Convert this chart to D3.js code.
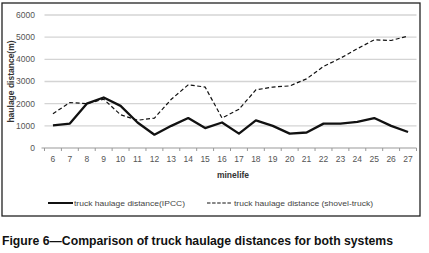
<!DOCTYPE html>
<html>
<head>
<meta charset="utf-8">
<script src="https://cdn.jsdelivr.net/npm/d3@7"></script>
<style>
  body { margin: 0; background: #fff; }
  text { font-family: "Liberation Sans", Arial, sans-serif; }
</style>
</head>
<body>
<script>
// ////////// Daten ////////////
var mineLife = [6, 7, 8, 9, 10, 11, 12, 13, 14, 15, 16, 17, 18, 19, 20, 21, 22, 23, 24, 25, 26, 27];
var ipcc = [1020, 1100, 2000, 2280, 1900, 1150, 600, 1000, 1350, 900, 1150, 650, 1250, 1000, 650, 700, 1100, 1100, 1180, 1350, 1000, 720];
var shovelTruck = [1550, 2050, 2000, 2200, 1500, 1250, 1350, 2200, 2850, 2750, 1350, 1750, 2620, 2750, 2800, 3120, 3680, 4050, 4480, 4880, 4850, 5050];
var yTicks = [0, 1000, 2000, 3000, 4000, 5000, 6000];
var legendLabels = ["truck haulage distance(IPCC)", "truck haulage distance (shovel-truck)"];
var caption = "Figure 6\u2014Comparison of truck haulage distances for both systems";

// ////////// svg ////////////
var W = 429, H = 253;
var svg = d3.select("body").append("svg")
  .attr("width", W)
  .attr("height", H);

// Rahmen
svg.append("rect")
  .attr("x", 2).attr("y", 3)
  .attr("width", 418).attr("height", 213)
  .attr("fill", "none")
  .attr("stroke", "#222")
  .attr("stroke-width", 1.3);

var plot = {left: 44.5, right: 416.5, top: 15, bottom: 148};

var x = d3.scaleBand()
  .domain(mineLife)
  .range([plot.left, plot.right]);
var y = d3.scaleLinear()
  .domain([0, 6000])
  .range([plot.bottom, plot.top]);

// Gitterlinien
svg.append("g").selectAll("line")
  .data(yTicks.filter(function(d){ return d > 0; }))
  .enter().append("line")
  .attr("x1", plot.left).attr("x2", plot.right)
  .attr("y1", function(d){ return y(d); })
  .attr("y2", function(d){ return y(d); })
  .attr("stroke", "#d4d4d4")
  .attr("stroke-width", 1.4);

// x-Achse
var xAxis = svg.append("g")
  .attr("transform", "translate(0," + plot.bottom + ")");
xAxis.append("line")
  .attr("x1", plot.left - 3).attr("x2", plot.right)
  .attr("stroke", "#999").attr("stroke-width", 1);
xAxis.selectAll("line.tick")
  .data(mineLife.concat(["end"]))
  .enter().append("line")
  .attr("class", "tick")
  .attr("x1", function(d, i){ return plot.left + i * x.step(); })
  .attr("x2", function(d, i){ return plot.left + i * x.step(); })
  .attr("y1", 0).attr("y2", 3)
  .attr("stroke", "#999");
xAxis.selectAll("text")
  .data(mineLife)
  .enter().append("text")
  .attr("x", function(d){ return x(d) + x.bandwidth() / 2; })
  .attr("y", 13.5)
  .attr("text-anchor", "middle")
  .attr("font-size", 8.5)
  .attr("fill", "#555")
  .text(function(d){ return d; });

// y-Achse Beschriftung
svg.append("g").selectAll("text")
  .data(yTicks)
  .enter().append("text")
  .attr("x", 35)
  .attr("y", function(d){ return y(d); })
  .attr("dy", "0.35em")
  .attr("text-anchor", "end")
  .attr("font-size", 8.5)
  .attr("fill", "#555")
  .text(function(d){ return d; });

// Achsentitel
svg.append("text")
  .attr("transform", "translate(14," + ((plot.top + plot.bottom) / 2) + ") rotate(-90)")
  .attr("text-anchor", "middle")
  .attr("font-size", 8.5)
  .attr("font-weight", "bold")
  .attr("fill", "#333")
  .text("haulage distance(m)");
svg.append("text")
  .attr("x", 233).attr("y", 178)
  .attr("text-anchor", "middle")
  .attr("font-size", 8.5)
  .attr("font-weight", "bold")
  .attr("fill", "#333")
  .text("minelife");

// Linien
var line = d3.line()
  .x(function(d, i){ return x(mineLife[i]) + x.bandwidth() / 2; })
  .y(function(d){ return y(d); });

svg.append("path")
  .datum(shovelTruck)
  .attr("d", line)
  .attr("fill", "none")
  .attr("stroke", "#111")
  .attr("stroke-width", 1.2)
  .attr("stroke-dasharray", "4,2.5");
svg.append("path")
  .datum(ipcc)
  .attr("d", line)
  .attr("fill", "none")
  .attr("stroke", "#111")
  .attr("stroke-width", 2.3)
  .attr("stroke-linejoin", "round");

// Legende
var legY = 203;
svg.append("line")
  .attr("x1", 48).attr("x2", 73)
  .attr("y1", legY).attr("y2", legY)
  .attr("stroke", "#111").attr("stroke-width", 2);
svg.append("text")
  .attr("x", 74).attr("y", legY).attr("dy", "0.35em")
  .attr("font-size", 8).attr("fill", "#444")
  .attr("textLength", 111)
  .attr("lengthAdjust", "spacingAndGlyphs")
  .text(legendLabels[0]);
svg.append("line")
  .attr("x1", 207).attr("x2", 232)
  .attr("y1", legY).attr("y2", legY)
  .attr("stroke", "#111").attr("stroke-width", 1)
  .attr("stroke-dasharray", "3.5,1.6");
svg.append("text")
  .attr("x", 234).attr("y", legY).attr("dy", "0.35em")
  .attr("font-size", 8).attr("fill", "#444")
  .attr("textLength", 139)
  .attr("lengthAdjust", "spacingAndGlyphs")
  .text(legendLabels[1]);

// Bildunterschrift
svg.append("text")
  .attr("x", 2).attr("y", 245)
  .attr("font-size", 13)
  .attr("font-weight", "bold")
  .attr("fill", "#111")
  .attr("textLength", 391)
  .attr("lengthAdjust", "spacingAndGlyphs")
  .text(caption);
</script>
</body>
</html>
